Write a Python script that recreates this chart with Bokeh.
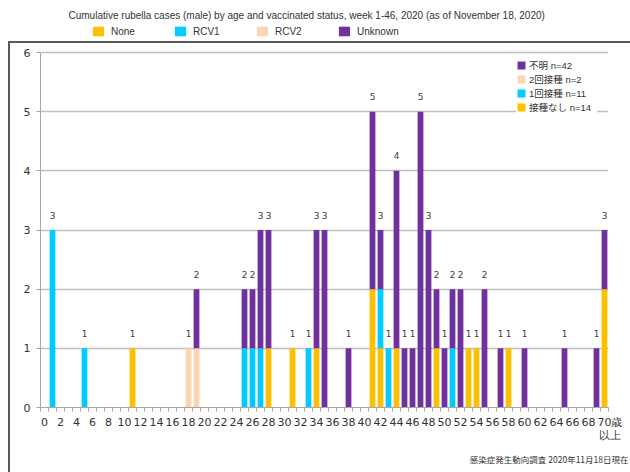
from bokeh.plotting import figure
from bokeh.models import (ColumnDataSource, FixedTicker, Legend, LegendItem, Title, Label)
from bokeh.embed import file_html
from bokeh.resources import INLINE
from bokeh.core.properties import value

# ---- data (cases by age, 70 = 70 and over) ----
ages = list(range(0, 71))
none_cases = {11: 1, 28: 1, 31: 1, 34: 1, 41: 2, 42: 1, 44: 1, 49: 1, 53: 1, 54: 1, 58: 1, 70: 2}
rcv1_cases = {1: 3, 5: 1, 25: 1, 26: 1, 27: 1, 33: 1, 42: 1, 43: 1, 51: 1}
rcv2_cases = {18: 1, 19: 1}
unknown_cases = {19: 1, 25: 1, 26: 1, 27: 2, 28: 2, 34: 2, 35: 3, 38: 1, 41: 3, 42: 1, 44: 3,
                 45: 1, 46: 1, 47: 5, 48: 3, 49: 1, 50: 1, 51: 1, 52: 2, 55: 2, 57: 1, 60: 1,
                 65: 1, 69: 1, 70: 1}
series_names = ["None", "RCV1", "RCV2", "Unknown"]
series_jp = {"None": "接種なし", "RCV1": "1回接種", "RCV2": "2回接種", "Unknown": "不明"}
colors = ["#FFC000", "#00CCFF", "#FCD5B5", "#7030A0"]
y_ticks = [0, 1, 2, 3, 4, 5, 6]
x_tick_labels = {a: str(a) for a in range(0, 70, 2)}
x_tick_labels[70] = "\u300070歳\n\u3000以上"
subtitle = "Cumulative rubella cases (male) by age and vaccinated status, week 1-46, 2020 (as of November 18, 2020)"
source_note = "感染症発生動向調査 2020年11月18日現在"

data = {"age": ages}
for name, d in zip(series_names, [none_cases, rcv1_cases, rcv2_cases, unknown_cases]):
    data[name] = [d.get(a, 0) for a in ages]
src = ColumnDataSource(data)

totals = [sum(data[n][i] for n in series_names) for i in range(len(ages))]
lab_x = [a for a, t in zip(ages, totals) if t > 0]
lab_y = [t for t in totals if t > 0]
lab_t = [str(t) for t in lab_y]

W, H = 630, 472
FRAME_TOP_PAD = 52      # pixels above the y=6 gridline that hold subtitle and top legend
FRAME_H = 355           # pixels from y=0 to y=6
y_max = max(y_ticks)
y_top = y_max * (FRAME_H + FRAME_TOP_PAD) / FRAME_H

p = figure(width=W, height=H, x_range=(-0.5, 70.5), y_range=(0, y_top), title=None,
           output_backend="svg", toolbar_location=None,
           min_border_left=40, min_border_right=22, min_border_top=0, min_border_bottom=65)
p.outline_line_color = None
p.background_fill_alpha = 0
p.border_fill_alpha = 0
p.styles = {
    "background": ("linear-gradient(#595959, #595959) 8px 41px / 2px 431px no-repeat, "
                   "linear-gradient(#595959, #595959) 8px 41px / 622px 2px no-repeat, white"),
}

renderers = p.vbar_stack(series_names, x="age", width=0.72, color=colors, line_color=None, source=src)
rmap = dict(zip(series_names, renderers))

p.text(x=lab_x, y=lab_y, text=lab_t, y_offset=-15, text_align="center", text_baseline="middle",
       text_font_size="9px", text_color="#404040", text_font=value("DejaVu Sans"))

# axes
p.xgrid.visible = False
p.ygrid.grid_line_color = "#BFBFBF"
p.ygrid.grid_line_width = 1.5
p.yaxis.ticker = FixedTicker(ticks=y_ticks)
p.yaxis.bounds = (0, y_max)
p.yaxis.axis_line_color = "#A6A6A6"
p.yaxis.major_tick_line_color = "#A6A6A6"
p.yaxis.major_tick_out = 4
p.yaxis.major_tick_in = 0
p.yaxis.minor_tick_line_color = None
p.yaxis.major_label_standoff = 6
p.yaxis.major_label_text_font_size = "11px"
p.yaxis.major_label_text_color = "#333333"
p.yaxis.major_label_text_font = "DejaVu Sans"

p.xaxis.ticker = FixedTicker(ticks=list(range(0, 71, 2)), minor_ticks=[a - 0.5 for a in range(0, 72)])
p.xaxis.major_label_overrides = x_tick_labels
p.xaxis.axis_line_color = "#A6A6A6"
p.xaxis.major_tick_line_color = None
p.xaxis.major_tick_out = 4
p.xaxis.minor_tick_line_color = "#A6A6A6"
p.xaxis.minor_tick_out = 4
p.xaxis.minor_tick_in = 0
p.xaxis.major_label_standoff = 4
p.xaxis.major_label_text_font_size = "11px"
p.xaxis.major_label_text_color = "#333333"
p.xaxis.major_label_text_font = "DejaVu Sans"
p.xaxis.major_label_text_line_height = 1.0

# legend inside plot (Japanese)
items_in = [LegendItem(label=f"{series_jp[n]} n={sum(data[n])}", renderers=[rmap[n]])
            for n in ["Unknown", "RCV2", "RCV1", "None"]]
leg_in = Legend(items=items_in, location=(476, 293), margin=0, padding=4, spacing=0,
                glyph_width=10, glyph_height=10, label_height=10, label_width=68, label_standoff=3,
                label_text_font_size="9.5px", label_text_font="Liberation Sans, 'Noto Sans CJK JP'",
                label_text_color="#333333",
                border_line_color=None, background_fill_color="white", background_fill_alpha=1.0)
p.add_layout(leg_in)

# legend on top (English)
items_top = [LegendItem(label=n, renderers=[rmap[n]]) for n in series_names]
leg_top = Legend(items=items_top, orientation="horizontal", location=(51, 370), margin=0, padding=0,
                 spacing=6, glyph_width=14, glyph_height=12, label_height=12, label_width=56,
                 label_standoff=6, label_text_font_size="10px", label_text_font="Liberation Sans",
                 label_text_color="#333333", border_line_color=None, background_fill_alpha=0)
p.add_layout(leg_top)

p.add_layout(Label(x=28, y=392, x_units="screen", y_units="screen", text=subtitle,
                   text_font_size="10px", text_font="Liberation Sans", text_color="#333333",
                   text_baseline="middle", text_align="left"))

p.add_layout(Title(text=source_note, align="right", offset=-20, standoff=12,
                   text_font_size="8.5px", text_font="Noto Sans CJK JP", text_color="#333333",
                   text_font_style="normal"), "below")

open("out.html", "w").write(file_html(p, INLINE))
